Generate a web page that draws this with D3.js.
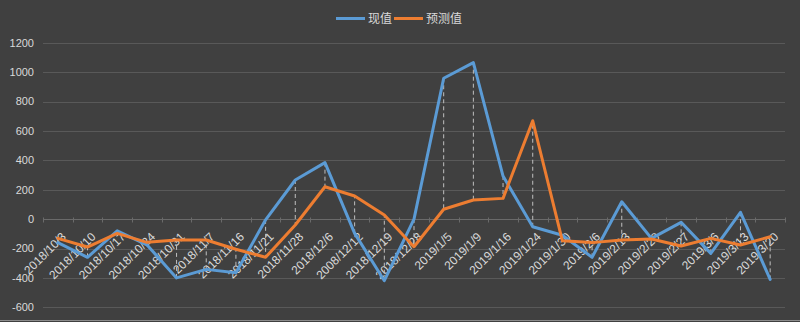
<!DOCTYPE html>
<html>
<head>
<meta charset="utf-8">
<script src="https://cdn.jsdelivr.net/npm/d3@7"></script>
<style>
  html, body { margin: 0; padding: 0; background: #404040; }
  svg { display: block; }
</style>
</head>
<body>
<svg id="chart" width="800" height="322"></svg>
<script>
// Weekly dates (category axis)
const categories = [
  "2018/10/3", "2018/10/10", "2018/10/17", "2018/10/24", "2018/10/31",
  "2018/11/7", "2018/11/16", "2018/11/21", "2018/11/28", "2018/12/6",
  "2008/12/12", "2018/12/19", "2018/12/28", "2019/1/5", "2019/1/9",
  "2019/1/16", "2019/1/24", "2019/1/30", "2019/2/6", "2019/2/13",
  "2019/2/20", "2019/2/27", "2019/3/6", "2019/3/13", "2019/3/20"
];

// Actual values (现值)
const actualValues = [
  -160, -260, -80, -175, -400,
  -342, -365, -5, 266, 384,
  -97, -419, 0, 958, 1064,
  293, -52, -110, -260, 118,
  -131, -22, -233, 46, -410
];

// Forecast values (预测值)
const forecastValues = [
  -131, -190, -97, -158, -142,
  -142, -205, -260, -40, 220,
  157, 28, -188, 67, 130,
  141, 669, -148, -160, -142,
  -135, -183, -131, -176, -120
];

const yTicks = [-600, -400, -200, 0, 200, 400, 600, 800, 1000, 1200];

const seriesNames = ["现值", "预测值"];
const seriesColors = ["#5b9bd5", "#ed7d31"];

const svg = d3.select("#chart");
const plotLeft = 43, plotRight = 785, plotTop = 42.7, plotBottom = 307.3;

const x = d3.scaleBand().domain(categories).range([plotLeft, plotRight]).paddingInner(0).paddingOuter(0);
const y = d3.scaleLinear().domain([-600, 1200]).range([plotBottom, plotTop]);
const cx = d => x(d) + x.bandwidth() / 2;

const fontFamily = "'Liberation Sans', Arial, sans-serif";
const textColor = "#d9d9d9";

// Horizontal gridlines
svg.append("g")
  .selectAll("line")
  .data(yTicks)
  .join("line")
  .attr("x1", plotLeft).attr("x2", plotRight)
  .attr("y1", d => Math.round(y(d)) + 0.5).attr("y2", d => Math.round(y(d)) + 0.5)
  .attr("stroke", "#595959")
  .attr("stroke-width", 1);

// Y axis labels
svg.append("g")
  .selectAll("text")
  .data(yTicks)
  .join("text")
  .attr("x", 34)
  .attr("y", d => y(d))
  .attr("dy", "0.35em")
  .attr("text-anchor", "end")
  .attr("font-family", fontFamily)
  .attr("font-size", 11)
  .attr("fill", textColor)
  .text(d => d);

// Category axis at zero with tick marks at band boundaries
const y0 = Math.round(y(0)) + 0.5;
svg.append("line")
  .attr("x1", plotLeft).attr("x2", plotRight)
  .attr("y1", y0).attr("y2", y0)
  .attr("stroke", "#6a6a6a");
const boundaries = categories.map(c => x(c)).concat([plotRight]);
svg.append("g")
  .selectAll("line")
  .data(boundaries)
  .join("line")
  .attr("x1", d => Math.round(d) + 0.5).attr("x2", d => Math.round(d) + 0.5)
  .attr("y1", y0 - 2).attr("y2", y0 + 3)
  .attr("stroke", "#6a6a6a");

// Category labels, rotated
svg.append("g")
  .selectAll("text")
  .data(categories)
  .join("text")
  .attr("transform", d => `translate(${cx(d) + 6},${y0 + 15}) rotate(-45)`)
  .attr("text-anchor", "end")
  .attr("dy", "0.35em")
  .attr("font-family", fontFamily)
  .attr("font-size", 12)
  .attr("fill", textColor)
  .text(d => d);

// High-low dashed connectors between the two series
svg.append("g")
  .selectAll("line")
  .data(categories)
  .join("line")
  .attr("x1", d => cx(d)).attr("x2", d => cx(d))
  .attr("y1", (d, i) => y(actualValues[i]))
  .attr("y2", (d, i) => y(forecastValues[i]))
  .attr("stroke", "#bfbfbf")
  .attr("stroke-width", 1)
  .attr("stroke-dasharray", "4,3");

// Series lines
const line = d3.line()
  .x((d, i) => cx(categories[i]))
  .y(d => y(d));

[actualValues, forecastValues].forEach((vals, k) => {
  svg.append("path")
    .datum(vals)
    .attr("d", line)
    .attr("fill", "none")
    .attr("stroke", seriesColors[k])
    .attr("stroke-width", 3)
    .attr("stroke-linejoin", "round")
    .attr("stroke-linecap", "round");
});

// Legend
const legend = svg.append("g");
const legendItems = [
  { name: seriesNames[0], color: seriesColors[0], x: 336 },
  { name: seriesNames[1], color: seriesColors[1], x: 394 }
];
legendItems.forEach(it => {
  legend.append("line")
    .attr("x1", it.x).attr("x2", it.x + 29)
    .attr("y1", 18.5).attr("y2", 18.5)
    .attr("stroke", it.color)
    .attr("stroke-width", 3);
  legend.append("text")
    .attr("x", it.x + 32)
    .attr("y", 19)
    .attr("dy", "0.35em")
    .attr("font-family", "'Noto Sans CJK SC', sans-serif")
    .attr("font-size", 12)
    .attr("fill", textColor)
    .text(it.name);
});

// Chart border at the bottom edge
svg.append("line")
  .attr("x1", 0).attr("x2", 800)
  .attr("y1", 320.5).attr("y2", 320.5)
  .attr("stroke", "#8c8c8c");
</script>
</body>
</html>
